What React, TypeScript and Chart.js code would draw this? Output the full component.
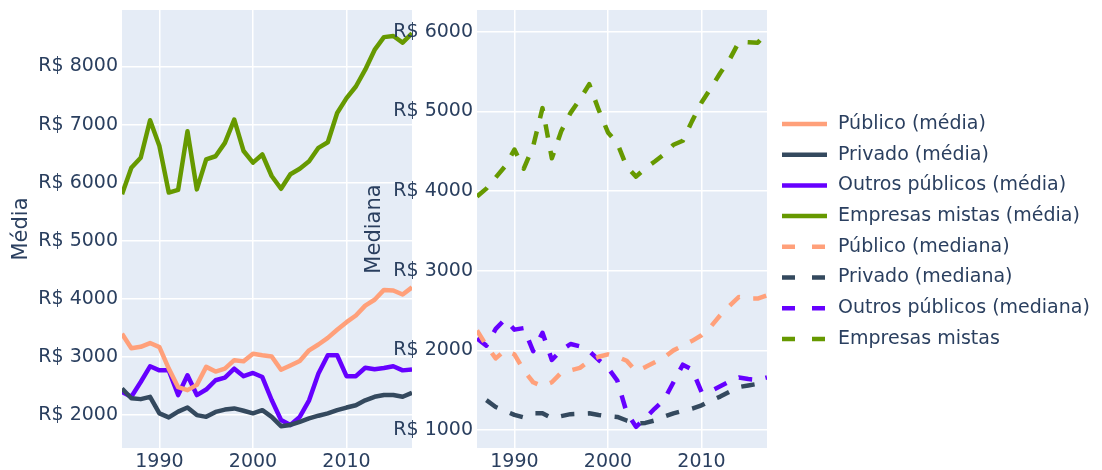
import React, { useEffect, useRef } from 'react';
import { Chart, registerables } from 'chart.js';

Chart.register(...registerables);

// ---------- data ----------
const years = [
  1986, 1987, 1988, 1989, 1990, 1991, 1992, 1993, 1994, 1995, 1996,
  1997, 1998, 1999, 2000, 2001, 2002, 2003, 2004, 2005, 2006, 2007,
  2008, 2009, 2010, 2011, 2012, 2013, 2014, 2015, 2016, 2017,
];

const publicoMedia = [
  3400, 3150, 3175, 3240, 3170, 2800, 2480, 2430, 2520, 2830, 2750,
  2800, 2945, 2925, 3055, 3030, 3010, 2780, 2855, 2930, 3115, 3215,
  3330, 3470, 3600, 3715, 3885, 3985, 4155, 4145, 4075, 4200,
];
const privadoMedia = [
  2457, 2290, 2275, 2315, 2030, 1960, 2060, 2130, 2000, 1970, 2055,
  2095, 2115, 2075, 2030, 2085, 1970, 1810, 1830, 1885, 1945, 1990,
  2030, 2085, 2130, 2170, 2255, 2315, 2345, 2345, 2315, 2385,
];
const outrosMedia = [
  2400, 2315, 2570, 2840, 2770, 2770, 2345, 2685, 2345, 2440, 2600,
  2645, 2800, 2670, 2725, 2655, 2260, 1915, 1830, 1970, 2255, 2715,
  3030, 3030, 2670, 2670, 2815, 2790, 2810, 2840, 2770, 2785,
];
const mistasMedia = [
  5800, 6257, 6430, 7075, 6630, 5830, 5875, 6885, 5885, 6400, 6455,
  6685, 7085, 6545, 6345, 6485, 6115, 5895, 6145, 6240, 6370, 6600,
  6695, 7200, 7455, 7655, 7945, 8285, 8505, 8525, 8410, 8570,
];

const publicoMediana = [
  2250, 2060, 1900, 2000, 1950, 1750, 1600, 1550, 1600, 1720, 1750,
  1780, 1870, 1920, 1950, 1920, 1870, 1740, 1790, 1850, 1910, 2000,
  2060, 2120, 2190, 2300, 2440, 2560, 2670, 2650, 2650, 2690,
];
const privadoMediana = [
  null, 1375, 1290, 1240, 1190, 1160, 1210, 1210, 1150, 1175, 1200,
  1205, 1210, 1190, 1175, 1165, 1120, 1080, 1090, 1120, 1170, 1210,
  1240, 1270, 1310, 1370, 1420, 1480, 1540, 1560, 1580, 1615,
];
const outrosMediana = [
  2150, 2060, 2270, 2390, 2260, 2280, 1990, 2220, 1880, 2000, 2080,
  2050, 1990, 1880, 1780, 1620, 1220, 1040, 1150, 1270, 1380, 1600,
  1820, 1760, 1480, 1490, 1550, 1610, 1660, 1640, 1630, 1660,
];
const mistasMediana = [
  3930, 4030, 4170, 4310, 4520, 4280, 4560, 5040, 4410, 4750, 4980,
  5150, 5340, 5020, 4735, 4600, 4305, 4180, 4285, 4370, 4460, 4580,
  4630, 4880, 5110, 5290, 5480, 5650, 5870, 5865, 5860, 5990,
];

const xTicks = [1990, 2000, 2010];
const yTicksMedia = [2000, 3000, 4000, 5000, 6000, 7000, 8000];
const yTicksMediana = [1000, 2000, 3000, 4000, 5000, 6000];

const labelsMedia = [
  'Público (média)',
  'Privado (média)',
  'Outros públicos (média)',
  'Empresas mistas (média)',
];
const labelsMediana = [
  'Público (mediana)',
  'Privado (mediana)',
  'Outros públicos (mediana)',
  'Empresas mistas',
];

// ---------- style ----------
const COLORS = ['#FFA07A', '#34495E', '#6600FF', '#669900'];
const FONT = "'DejaVu Sans', Verdana, sans-serif";
const TEXT = '#2a3f5f';
const PLOT_BG = '#E5ECF6';

const toPoints = (vals: (number | null)[]) =>
  years.map((yr, i) => ({ x: yr, y: vals[i] }));

const plotBg = {
  id: 'plotBg',
  beforeDraw(chart: any) {
    const { ctx, chartArea: a } = chart;
    ctx.save();
    ctx.fillStyle = PLOT_BG;
    ctx.fillRect(a.left, a.top, a.right - a.left, a.bottom - a.top);
    ctx.restore();
  },
};

const legendItems = [
  ...labelsMedia.map((l, i) => ({ label: l, color: COLORS[i], dashed: false })),
  ...labelsMediana.map((l, i) => ({ label: l, color: COLORS[i], dashed: true })),
];

const sideLegend = {
  id: 'sideLegend',
  afterDraw(chart: any) {
    const { ctx, chartArea } = chart;
    ctx.save();
    ctx.font = `19px ${FONT}`;
    ctx.textBaseline = 'middle';
    ctx.textAlign = 'left';
    legendItems.forEach((item, i) => {
      const y = 124 + i * 30.7;
      const x0 = chartArea.right + 15;
      ctx.strokeStyle = item.color;
      ctx.lineWidth = 4.5;
      ctx.setLineDash(item.dashed ? [13, 17] : []);
      ctx.beginPath();
      ctx.moveTo(x0, y);
      ctx.lineTo(x0 + 45, y);
      ctx.stroke();
      ctx.setLineDash([]);
      ctx.fillStyle = TEXT;
      ctx.fillText(item.label, x0 + 56, y);
    });
    ctx.restore();
  },
};

const zeroPad = (s: any) => {
  s.paddingTop = 0;
  s.paddingBottom = 0;
  s.paddingLeft = 0;
  s.paddingRight = 0;
};

function makeOptions(
  yMin: number,
  yMax: number,
  yTicks: number[],
  yTitle: string,
  yWidth: number,
  titlePad: number,
  padRight: number,
) {
  return {
    responsive: false,
    animation: false as const,
    events: [] as any[],
    layout: { padding: { top: 10, right: padRight, left: 0, bottom: 0 } },
    plugins: { legend: { display: false }, tooltip: { enabled: false } },
    scales: {
      x: {
        type: 'linear' as const,
        min: 1986,
        max: 2017,
        afterBuildTicks: (s: any) => {
          s.ticks = xTicks.map((v) => ({ value: v }));
        },
        afterFit: (s: any) => {
          s.height = 22;
          zeroPad(s);
        },
        grid: { color: '#ffffff', lineWidth: 1.5, drawTicks: false },
        border: { display: false },
        ticks: {
          color: TEXT,
          font: { family: FONT, size: 19 },
          padding: 3,
          maxRotation: 0,
          callback: (v: any) => String(v),
        },
      },
      y: {
        type: 'linear' as const,
        min: yMin,
        max: yMax,
        afterBuildTicks: (s: any) => {
          s.ticks = yTicks.map((v) => ({ value: v }));
        },
        afterFit: (s: any) => {
          s.width = yWidth;
          zeroPad(s);
        },
        grid: { color: '#ffffff', lineWidth: 1.5, drawTicks: false },
        border: { display: false },
        ticks: {
          color: TEXT,
          font: { family: FONT, size: 19 },
          padding: 4,
          callback: (v: any) => 'R$ ' + v,
        },
        title: {
          display: true,
          text: yTitle,
          color: TEXT,
          font: { family: FONT, size: 21 },
          padding: { top: titlePad, bottom: 0 },
        },
      },
    },
  };
}

function lineDataset(label: string, vals: (number | null)[], color: string, dashed: boolean) {
  return {
    label,
    data: toPoints(vals),
    borderColor: color,
    backgroundColor: color,
    borderWidth: 4.5,
    borderDash: dashed ? [13.5, 13.5] : [],
    pointRadius: 0,
    tension: 0,
    fill: false,
    spanGaps: false,
    clip: 0,
    borderJoinStyle: 'round' as const,
  };
}

export default function App() {
  const leftRef = useRef<HTMLCanvasElement>(null);
  const rightRef = useRef<HTMLCanvasElement>(null);

  useEffect(() => {
    const mediaSeries = [publicoMedia, privadoMedia, outrosMedia, mistasMedia];
    const medianaSeries = [publicoMediana, privadoMediana, outrosMediana, mistasMediana];

    const left = new Chart(leftRef.current!, {
      type: 'line',
      data: {
        datasets: mediaSeries.map((s, i) => lineDataset(labelsMedia[i], s, COLORS[i], false)),
      },
      options: makeOptions(1434, 8972, yTicksMedia, 'Média', 122, 9.4, 0) as any,
      plugins: [plotBg],
    });

    const right = new Chart(rightRef.current!, {
      type: 'line',
      data: {
        datasets: medianaSeries.map((s, i) => lineDataset(labelsMediana[i], s, COLORS[i], true)),
      },
      options: makeOptions(775, 6271, yTicksMediana, 'Mediana', 132, 17.4, 335) as any,
      plugins: [plotBg, sideLegend],
    });

    return () => {
      left.destroy();
      right.destroy();
    };
  }, []);

  return (
    <div
      style={{
        position: 'fixed',
        left: 0,
        top: 0,
        width: 1102,
        height: 470,
        background: '#ffffff',
        overflow: 'hidden',
      }}
    >
      <canvas
        ref={leftRef}
        width={412}
        height={470}
        style={{ position: 'absolute', left: 0, top: 0, width: 412, height: 470 }}
      />
      <canvas
        ref={rightRef}
        width={757}
        height={470}
        style={{ position: 'absolute', left: 345, top: 0, width: 757, height: 470 }}
      />
    </div>
  );
}
